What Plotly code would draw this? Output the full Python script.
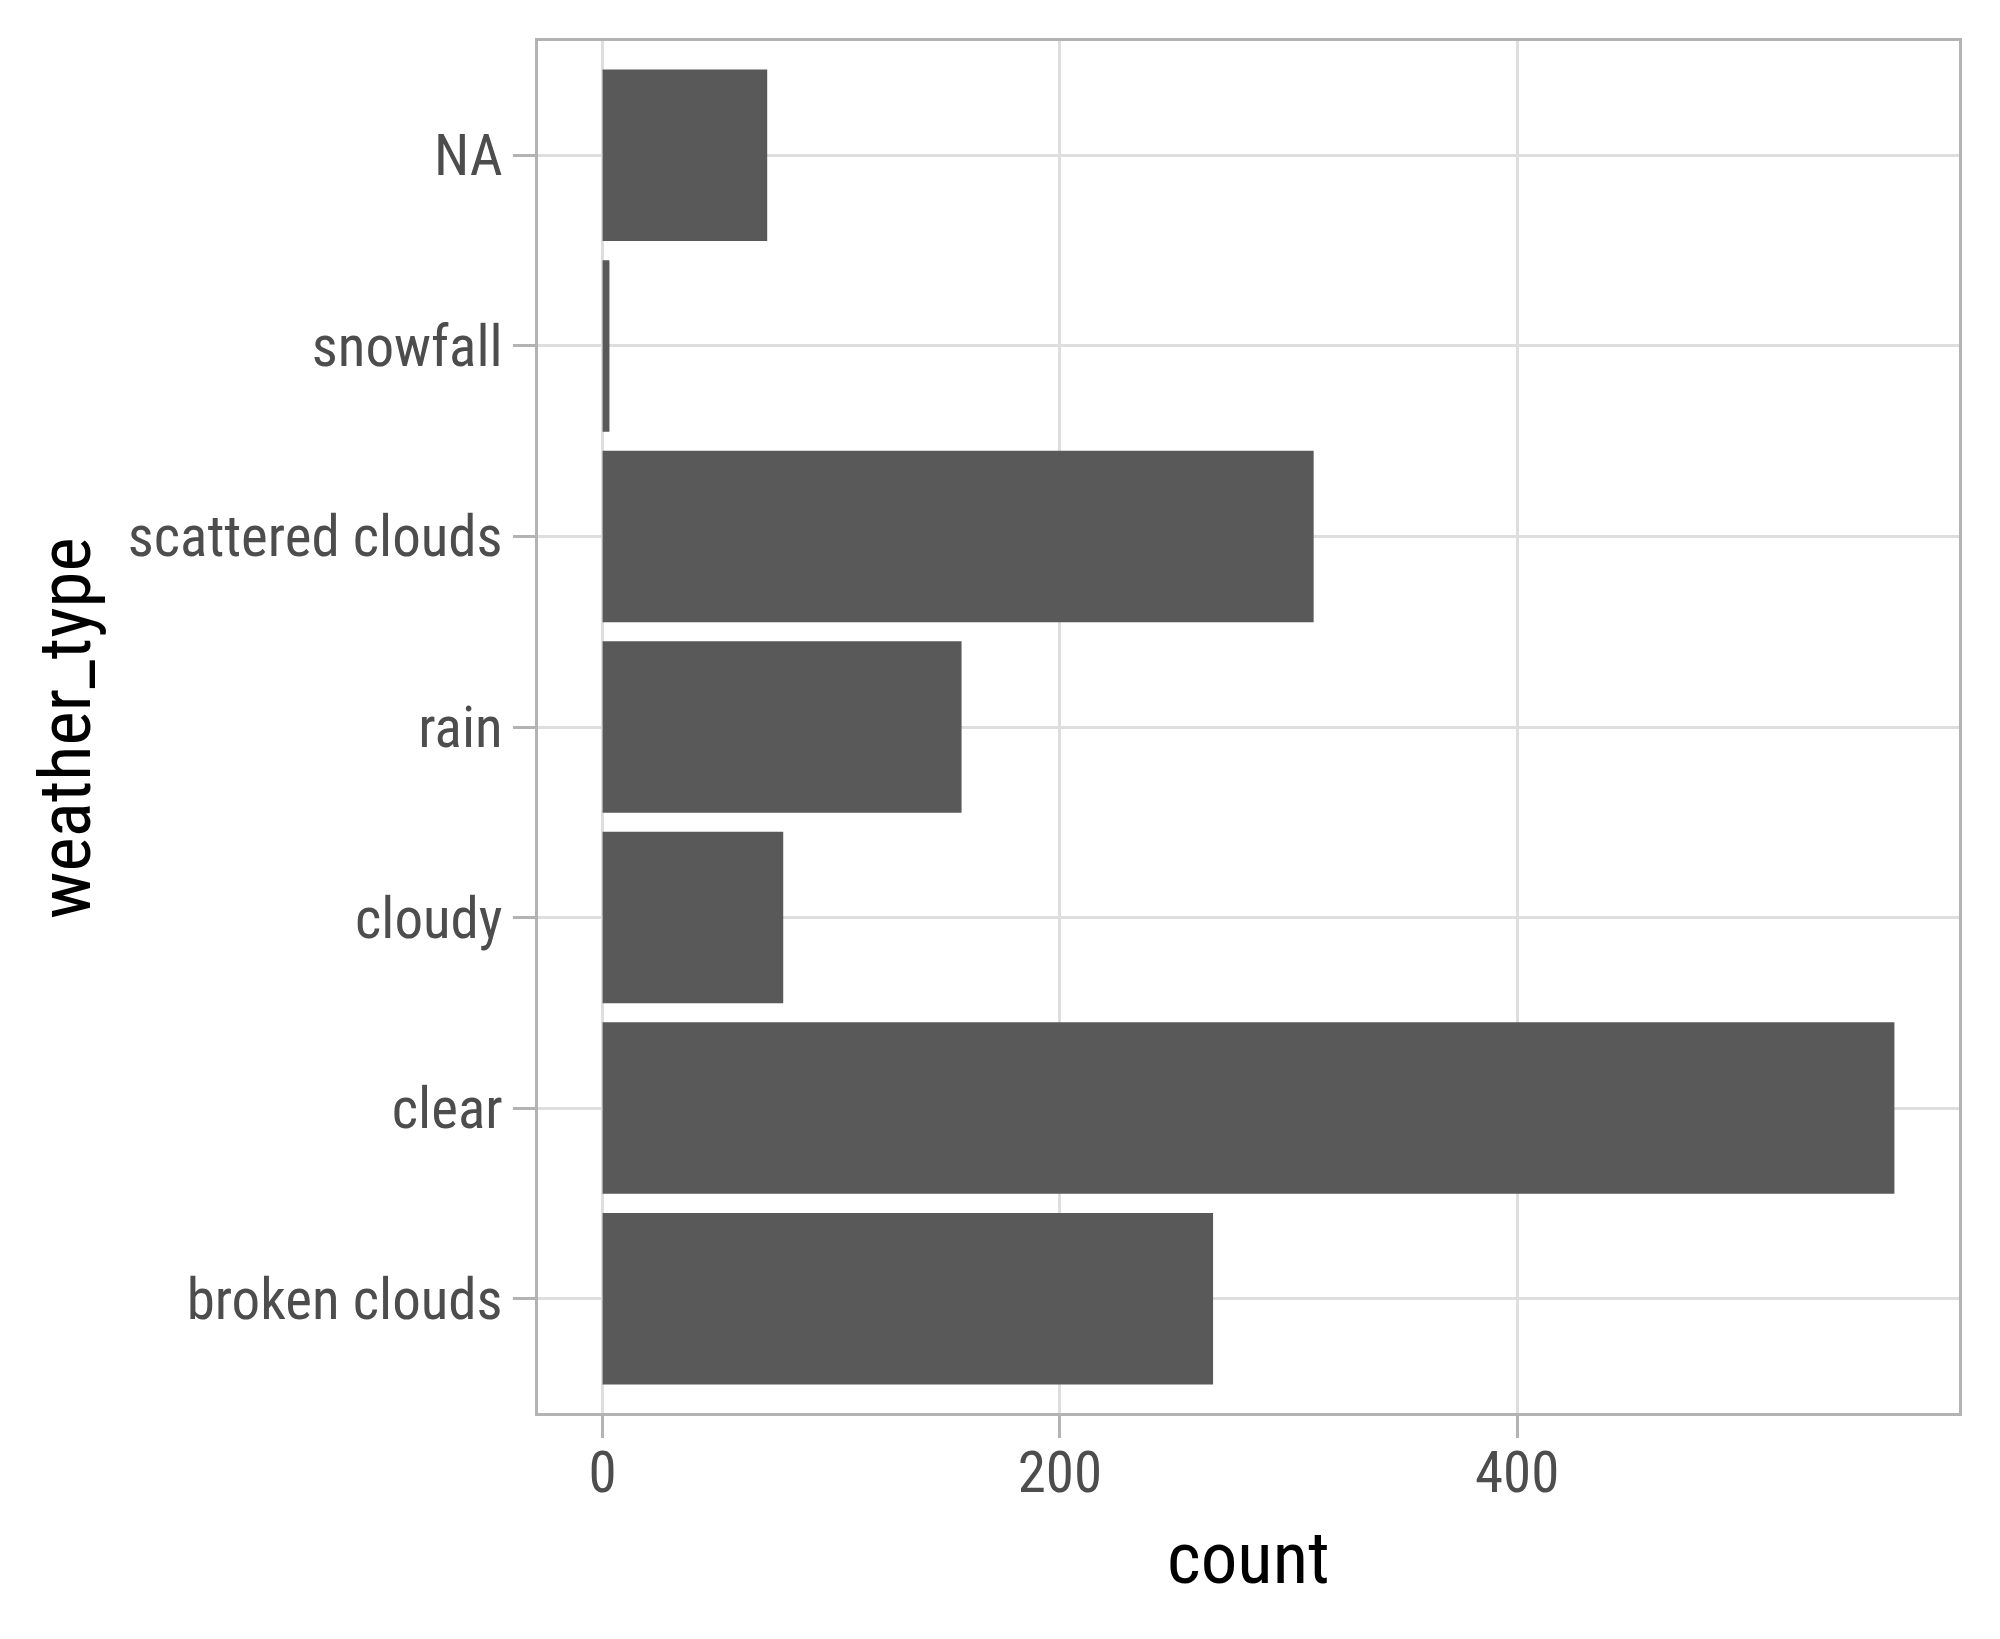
import plotly.graph_objects as go

categories = ["broken clouds", "clear", "cloudy", "rain", "scattered clouds", "snowfall", "NA"]
counts = [267, 565, 79, 157, 311, 3, 72]
x_ticks = [0, 200, 400]
x_tick_labels = ["0", "200", "400"]

FONT = "Roboto Condensed, Open Sans Condensed, DejaVu Sans Condensed, sans-serif"
TICK_SIZE = 57
TITLE_SIZE = 73

xmax = max(counts)
pad = 0.05 * xmax

fig = go.Figure()
fig.add_trace(go.Bar(
    y=categories, x=counts, orientation="h", width=0.9,
    marker=dict(color="#595959", line=dict(width=0)),
    showlegend=False,
))

# page body has an 8px default margin, so the figure is sized/offset to compensate
fig.update_layout(
    width=1992, height=1631,
    margin=dict(l=530, r=41, t=33, b=226),
    paper_bgcolor="white", plot_bgcolor="white",
    font=dict(family=FONT, color="#4D4D4D", size=TICK_SIZE),
    bargap=0.1,
)
fig.update_xaxes(
    range=[-pad, xmax + pad],
    tickvals=x_ticks, ticktext=x_tick_labels,
    showgrid=True, gridcolor="#DEDEDE", gridwidth=3,
    zeroline=False,
    showline=True, mirror=True, linecolor="#B3B3B3", linewidth=3,
    ticks="outside", ticklen=22, tickwidth=3, tickcolor="#B3B3B3",
    tickfont=dict(family=FONT, size=TICK_SIZE, color="#4D4D4D"),
    ticklabelstandoff=-14,
)
fig.update_yaxes(
    type="category", categoryorder="array", categoryarray=categories,
    range=[-0.6, len(categories) - 0.4],
    showgrid=True, gridcolor="#DEDEDE", gridwidth=3,
    zeroline=False,
    showline=True, mirror=True, linecolor="#B3B3B3", linewidth=3,
    ticks="outside", ticklen=22, tickwidth=3, tickcolor="#B3B3B3",
    tickfont=dict(family=FONT, size=TICK_SIZE, color="#4D4D4D"),
    ticklabelstandoff=-1,
)
fig.add_annotation(
    text="count", xref="paper", yref="paper", x=0.5003, y=-0.1057,
    xanchor="center", yanchor="middle", showarrow=False,
    font=dict(family=FONT, size=TITLE_SIZE, color="black"),
)
fig.add_annotation(
    text="weather_type", xref="paper", yref="paper", x=-0.3329, y=0.4993,
    xanchor="center", yanchor="middle", showarrow=False, textangle=-90,
    font=dict(family=FONT, size=TITLE_SIZE, color="black"),
)

fig.write_html("out.html")
